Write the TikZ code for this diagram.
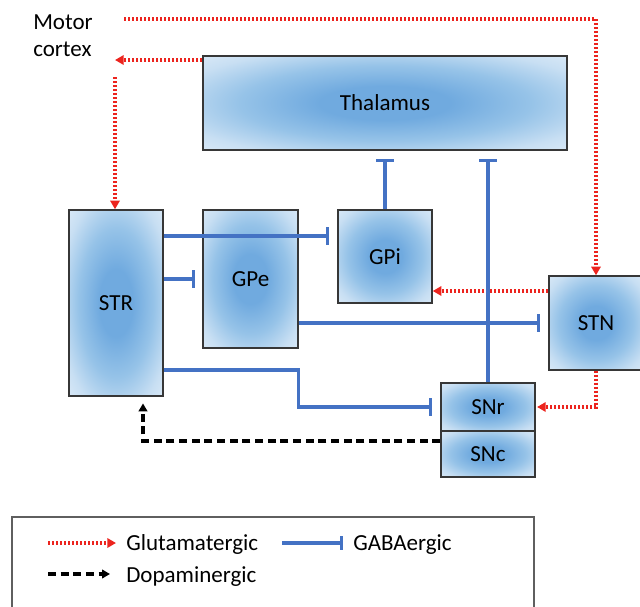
\documentclass[tikz,border=0pt]{standalone}
\usepackage{fontspec}
\setmainfont{Carlito}
\usetikzlibrary{arrows.meta}
\definecolor{nucA}{RGB}{112,170,223}
\definecolor{nucM}{RGB}{150,195,232}
\definecolor{nucB}{RGB}{200,223,243}
\definecolor{nucC}{RGB}{228,239,249}
\definecolor{nucline}{RGB}{55,55,55}
\definecolor{glured}{RGB}{236,36,30}
\definecolor{gababl}{RGB}{68,114,196}
\definecolor{legline}{RGB}{95,95,95}
\pgfdeclareradialshading{nucleus}{\pgfpoint{0bp}{0bp}}{color(0bp)=(nucA); color(9bp)=(nucA); color(20bp)=(nucM); color(30bp)=(nucB); color(40bp)=(nucC); color(50bp)=(nucC)}
\newcommand{\labfont}{\fontsize{17.25}{20.25}\selectfont}

\begin{document}
\begin{tikzpicture}[x=0.75pt,y=0.75pt,yscale=-1,xscale=1,
    nuc/.style={draw=nucline, line width=1.1pt, shading=nucleus, inner sep=0pt, font=\labfont},
    glu/.style={draw=glured, line width=2.3pt, dash pattern=on 1.5pt off 1.5pt, -{Triangle[length=6.5pt,width=7pt]}},
    gaba/.style={draw=gababl, line width=2.3pt, -{Bar[width=13pt]}},
    dopa/.style={draw=black, line width=2.3pt, dash pattern=on 6pt off 3.5pt, -{Triangle[length=6pt,width=6.5pt]}},
    lab/.style={inner sep=0pt, font=\labfont}]
        \useasboundingbox (0,0) rectangle (640,607);
        \clip (0,0) rectangle (640,607);

        %Shape: Rectangle [thalamus]
        \node [nuc, minimum width=273pt, minimum height=70.5pt] (thal) at (385,103) {Thalamus};
        %Shape: Rectangle [striatum]
        \node [nuc, minimum width=70.5pt, minimum height=139.5pt] (str) at (116,303) {STR};
        %Shape: Rectangle [globus pallidus ext.]
        \node [nuc, minimum width=71.25pt, minimum height=103.5pt] (gpe) at (250.5,279) {GPe};
        %Shape: Rectangle [globus pallidus int.]
        \node [nuc, minimum width=70.5pt, minimum height=69.75pt] (gpi) at (385,256.5) {GPi};
        %Shape: Rectangle [subthalamic nucleus]
        \node [nuc, minimum width=70.5pt, minimum height=70.5pt] (stn) at (596,323) {STN};
        %Shape: Rectangle [substantia nigra]
        \node [nuc, minimum width=70.5pt, minimum height=36pt] (snr) at (488,407) {SNr};
        \node [nuc, minimum width=70.5pt, minimum height=34.5pt] (snc) at (488,454) {SNc};

        % Text Node
        \node [lab, align=left, anchor=north west] (mc) at (33,14) {Motor\\cortex};
        \coordinate (mcout) at (124,19);
        \coordinate (mcin) at (115,60);
        \coordinate (mcdn) at (115,77);

        % glutamatergic
        \draw [glu] (mcout) -| (stn.north);
        \draw [glu] (thal.west |- mcin) -- (mcin);
        \draw [glu] (mcdn) -- (mcdn |- str.north);
        \draw [glu] (stn.west |- 0,291) -- (gpi.east |- 0,291);
        \draw [glu, shorten >=1pt] (stn.south) |- (snr.east);

        % gabaergic
        \draw [gaba, shorten >=6pt] (str.east |- 0,236) -- (gpi.west |- 0,236);
        \draw [gaba, shorten >=5.5pt] (str.east |- gpe.west) -- (gpe.west);
        \draw [gaba, shorten >=6pt] (gpe.east |- stn.west) -- (stn.west);
        \draw [gaba, shorten >=6.5pt] (str.east |- 0,370) -| (gpe.east |- snr.west) -- (snr.west);
        \draw [gaba, shorten >=6pt] (gpi.north) -- (gpi.north |- thal.south);
        \draw [gaba, shorten >=6pt] (snr.north) -- (snr.north |- thal.south);

        % dopaminergic
        \draw [dopa, shorten >=5pt] (snc.west |- 0,441) -| ([xshift=20.25pt]str.south);

        %Shape: Rectangle [legend]
        \draw [draw=legline, line width=1.1pt] (12,517) rectangle (534,625);
        % Text Node
        \node [lab, anchor=base west] (lglu) at (126,550) {Glutamatergic};
        \node [lab, anchor=base west] (lgaba) at (353,550) {GABAergic};
        \node [lab, anchor=base west] (ldopa) at (126,582) {Dopaminergic};
        \coordinate (kglu) at (48,543);
        \coordinate (kgaba) at (282,543);
        \coordinate (kdopa) at (48,574);
        \draw [glu, shorten >=7.5pt] (kglu) -- (kglu -| lglu.west);
        \draw [gaba, -{Bar[width=10pt]}, shorten >=7.5pt] (kgaba) -- (kgaba -| lgaba.west);
        \draw [dopa, shorten >=12pt] (kdopa) -- (kdopa -| ldopa.west);

\end{tikzpicture}
\end{document}
